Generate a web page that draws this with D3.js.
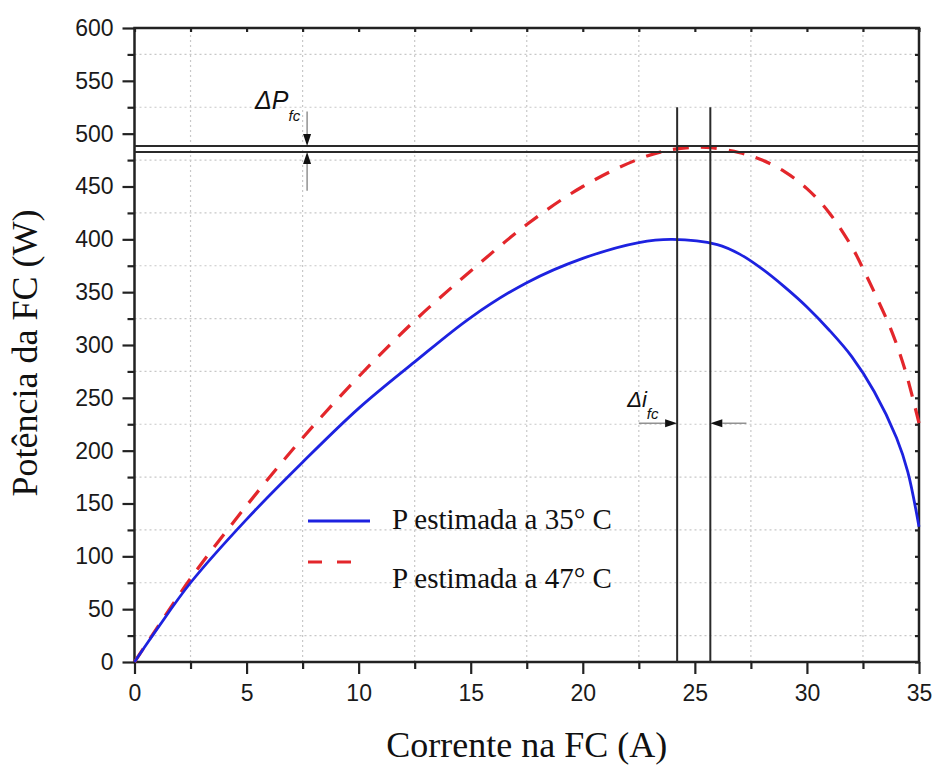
<!DOCTYPE html>
<html lang="pt">
<head>
  <meta charset="utf-8">
  <title>Potência da FC</title>
  <style>
    body { margin: 0; background: #fff; }
    .tick text { font-family: Arial, "Liberation Sans", sans-serif; }
  </style>
</head>
<body>
  <div id="chart"></div>

<script src="https://cdn.jsdelivr.net/npm/d3@7"></script>
<script>
    ////////////////////////////////////////////////// DATA
    // corrente (A) e potencia estimada (W)
    var current35 = [0, 1, 2.5, 5, 7.5, 10, 12.5, 15, 17.5, 20, 22.5, 24, 26, 27, 28, 29, 30, 31, 32, 33, 34, 34.5, 35];
    var power35   = [0, 31, 75, 135, 189, 240, 284, 326, 359, 382, 397, 400, 395, 386, 372, 355, 336, 314, 289, 256, 212, 180, 128];

    var current47 = [0, 1, 2.5, 5, 7.5, 10, 12.5, 15, 17.5, 20, 22.5, 24, 25.5, 27, 28, 29, 30, 31, 32, 32.6, 33.2, 33.8, 34.4, 35];
    var power47   = [0, 32, 79, 148, 212, 270, 323, 370, 414, 450, 476, 485, 487, 482, 475, 464, 448, 425, 393, 368, 341, 312, 275, 226];

    var seriesNames = ["P estimada a 35° C", "P estimada a 47° C"];

    var xMajor = [0, 5, 10, 15, 20, 25, 30, 35];
    var xMinor = [2.5, 7.5, 12.5, 17.5, 22.5, 27.5, 32.5];
    var yMajor = [0, 50, 100, 150, 200, 250, 300, 350, 400, 450, 500, 550, 600];
    var yMinor = [25, 75, 125, 175, 225, 275, 325, 375, 425, 475, 525, 575];

    // linhas de referencia (pico de potencia e corrente correspondente)
    var peakPower   = [488.3, 482.6];
    var peakCurrent = [24.21, 25.69];
    var refTop      = 525;

    ////////////////////////////////////////////////// SETUP
    var width = 934, height = 765;
    var margin = {left: 134.5, right: 15, top: 28, bottom: 103};

    var svg = d3.select("#chart").append("svg")
        .attr("width", width)
        .attr("height", height);

    var x = d3.scaleLinear().domain([0, 35]).range([margin.left, width - margin.right]);
    var y = d3.scaleLinear().domain([0, 600]).range([height - margin.bottom, margin.top]);

    // grade pontilhada nas posicoes secundarias
    svg.append("g").selectAll("line")
        .data(xMinor)
        .join("line")
        .attr("x1", d => x(d)).attr("x2", d => x(d))
        .attr("y1", y(0)).attr("y2", y(600))
        .attr("stroke", "#c8c8c8")
        .attr("stroke-width", 1.2)
        .attr("stroke-dasharray", "2,3");

    svg.append("g").selectAll("line")
        .data(yMinor)
        .join("line")
        .attr("x1", x(0)).attr("x2", x(35))
        .attr("y1", d => y(d)).attr("y2", d => y(d))
        .attr("stroke", "#c8c8c8")
        .attr("stroke-width", 1.2)
        .attr("stroke-dasharray", "2,3");

    ////////////////////////////////////////////////// AXES
    function styleAxis(g) {
        g.select(".domain").remove();
        g.selectAll(".tick line").attr("stroke", "#222").attr("stroke-width", 2.2);
        g.selectAll(".tick text").attr("fill", "#1a1a1a").attr("font-size", 23);
    }

    svg.append("g")
        .attr("transform", `translate(0,${y(0)})`)
        .call(d3.axisBottom(x).tickValues(xMajor).tickSize(12).tickPadding(11).tickFormat(d3.format("d")))
        .call(styleAxis);

    svg.append("g")
        .attr("transform", `translate(0,${y(0)})`)
        .call(d3.axisBottom(x).tickValues(xMinor).tickSize(7).tickFormat(""))
        .call(styleAxis);

    svg.append("g")
        .attr("transform", `translate(${x(0)},0)`)
        .call(d3.axisLeft(y).tickValues(yMajor).tickSize(12).tickPadding(9))
        .call(styleAxis);

    svg.append("g")
        .attr("transform", `translate(${x(0)},0)`)
        .call(d3.axisLeft(y).tickValues(yMinor).tickSize(7).tickFormat(""))
        .call(styleAxis);

    // marcas internas no topo e a direita
    svg.append("g")
        .attr("transform", `translate(${x(35)},0)`)
        .call(d3.axisRight(y).tickValues(yMajor.concat(yMinor)).tickSize(-4).tickFormat(""))
        .call(styleAxis);

    svg.append("g")
        .attr("transform", `translate(0,${y(600)})`)
        .call(d3.axisTop(x).tickValues(xMajor.concat(xMinor)).tickSize(-4).tickFormat(""))
        .call(styleAxis);

    // moldura
    svg.append("rect")
        .attr("x", x(0)).attr("y", y(600))
        .attr("width", x(35) - x(0)).attr("height", y(0) - y(600))
        .attr("fill", "none")
        .attr("stroke", "#222")
        .attr("stroke-width", 2.5);

    ////////////////////////////////////////////////// CURVES
    var line = d3.line()
        .x(d => x(d[0]))
        .y(d => y(d[1]))
        .curve(d3.curveCatmullRom.alpha(0.5));

    svg.append("path")
        .datum(d3.zip(current47, power47))
        .attr("fill", "none")
        .attr("stroke", "#e3262b")
        .attr("stroke-width", 3.2)
        .attr("stroke-dasharray", "16,12")
        .attr("d", line);

    svg.append("path")
        .datum(d3.zip(current35, power35))
        .attr("fill", "none")
        .attr("stroke", "#1d22e0")
        .attr("stroke-width", 2.8)
        .attr("d", line);

    ////////////////////////////////////////////////// REFERENCE LINES
    svg.append("g").selectAll("line")
        .data(peakPower)
        .join("line")
        .attr("x1", x(0)).attr("x2", x(35))
        .attr("y1", d => y(d)).attr("y2", d => y(d))
        .attr("stroke", "#2a2a2a")
        .attr("stroke-width", 2);

    svg.append("g").selectAll("line")
        .data(peakCurrent)
        .join("line")
        .attr("x1", d => x(d)).attr("x2", d => x(d))
        .attr("y1", y(0)).attr("y2", y(refTop))
        .attr("stroke", "#2a2a2a")
        .attr("stroke-width", 2);

    // setas: cauda e ponta em coordenadas dos dados
    function arrow(x0, y0, x1, y1) {
        var px0 = x(x0), py0 = y(y0), px1 = x(x1), py1 = y(y1);
        var a = Math.atan2(py1 - py0, px1 - px0);
        var len = 12, hw = 4;
        var bx = px1 - len * Math.cos(a), by = py1 - len * Math.sin(a);
        svg.append("line")
            .attr("x1", px0).attr("y1", py0)
            .attr("x2", bx).attr("y2", by)
            .attr("stroke", "#777")
            .attr("stroke-width", 1.2);
        svg.append("path")
            .attr("d", `M${px1},${py1}L${bx + hw * Math.sin(a)},${by - hw * Math.cos(a)}L${bx - hw * Math.sin(a)},${by + hw * Math.cos(a)}Z`)
            .attr("fill", "#111");
    }

    var dpX = 7.7, diY = 226;
    arrow(dpX, 521, dpX, peakPower[0]);
    arrow(dpX, 446, dpX, peakPower[1]);
    arrow(22.5, diY, peakCurrent[0], diY);
    arrow(27.3, diY, peakCurrent[1], diY);

    var dP = svg.append("text")
        .attr("x", x(dpX) - 52)
        .attr("y", y(521) - 2)
        .attr("font-family", "Arial, 'Liberation Sans', sans-serif")
        .attr("font-style", "italic")
        .attr("fill", "#111")
        .attr("font-size", 25);
    dP.append("tspan").text("ΔP");
    dP.append("tspan").attr("font-size", 15).attr("dy", 12).text("fc");

    var dI = svg.append("text")
        .attr("x", x(peakCurrent[0]) - 50)
        .attr("y", y(diY) - 16)
        .attr("font-family", "Arial, 'Liberation Sans', sans-serif")
        .attr("font-style", "italic")
        .attr("fill", "#111")
        .attr("font-size", 22);
    dI.append("tspan").text("Δi");
    dI.append("tspan").attr("font-size", 15).attr("dy", 12).text("fc");

    ////////////////////////////////////////////////// LEGEND
    var legend = svg.append("g")
        .attr("font-family", "'Times New Roman', 'Liberation Serif', serif")
        .attr("font-size", 29)
        .attr("fill", "#111");

    legend.append("line")
        .attr("x1", 308).attr("x2", 370).attr("y1", 521).attr("y2", 521)
        .attr("stroke", "#1d22e0").attr("stroke-width", 3);
    legend.append("text").attr("x", 392).attr("y", 529).text(seriesNames[0]);

    legend.append("line")
        .attr("x1", 308).attr("x2", 351).attr("y1", 562).attr("y2", 562)
        .attr("stroke", "#e3262b").attr("stroke-width", 3)
        .attr("stroke-dasharray", "14,15");
    legend.append("text").attr("x", 392).attr("y", 588).text(seriesNames[1]);

    ////////////////////////////////////////////////// TITLES
    svg.append("text")
        .attr("x", (x(0) + x(35)) / 2)
        .attr("y", 757)
        .attr("text-anchor", "middle")
        .attr("font-family", "'Times New Roman', 'Liberation Serif', serif")
        .attr("font-size", 36)
        .attr("fill", "#111")
        .text("Corrente na FC (A)");

    svg.append("text")
        .attr("transform", "translate(37,353) rotate(-90)")
        .attr("text-anchor", "middle")
        .attr("font-family", "'Times New Roman', 'Liberation Serif', serif")
        .attr("font-size", 36)
        .attr("fill", "#111")
        .text("Potência da FC (W)");
</script>
</body>
</html>
